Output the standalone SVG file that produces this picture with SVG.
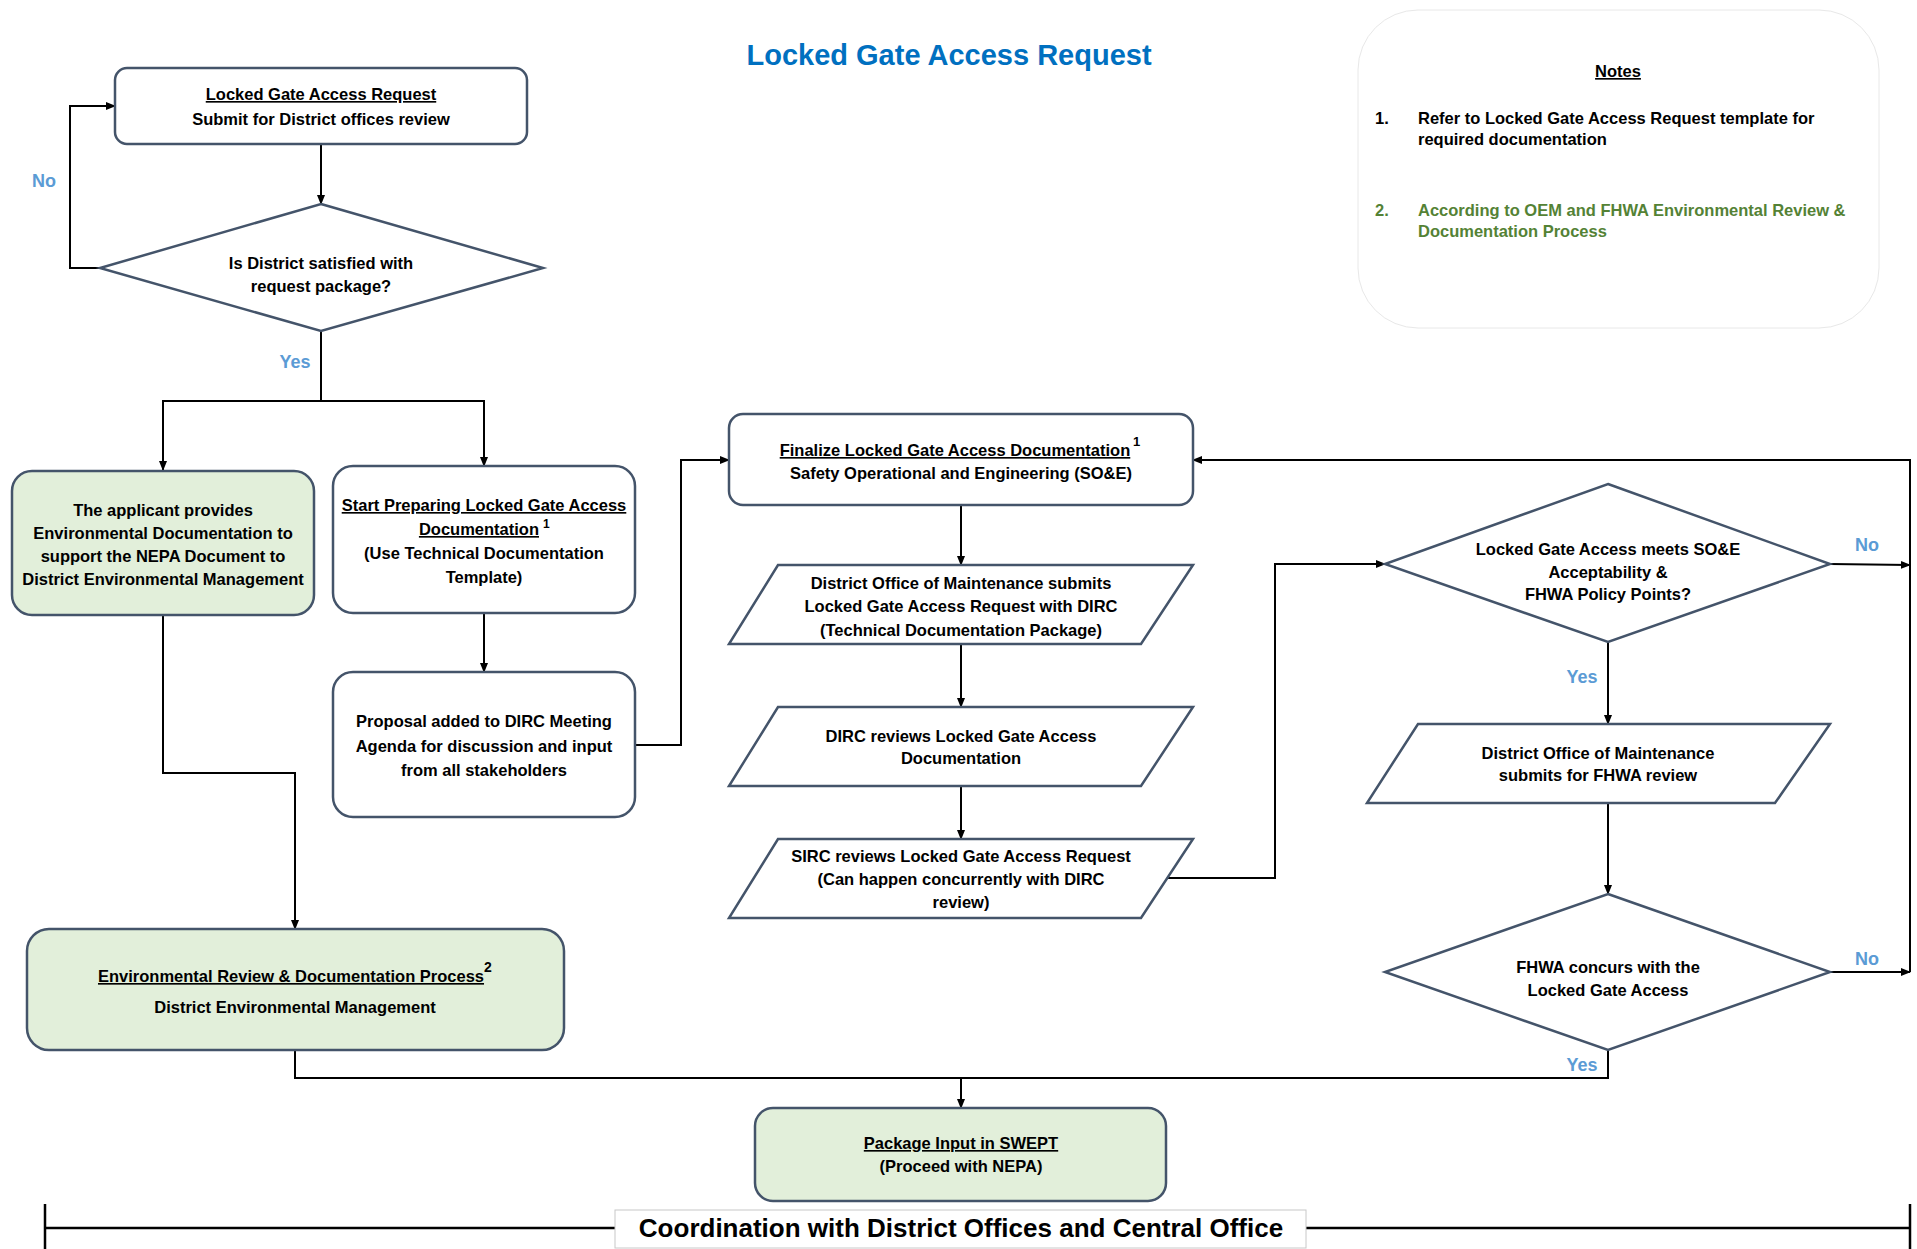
<svg xmlns="http://www.w3.org/2000/svg" width="1917" height="1249" viewBox="0 0 1917 1249">
  <defs>
    <marker id="arrow" markerWidth="10" markerHeight="10" refX="9" refY="5" orient="auto" markerUnits="userSpaceOnUse">
      <path d="M0,1 L10,5 L0,9 Z" fill="#000"/>
    </marker>
    <style>
      text { font-family: "Liberation Sans", Arial, sans-serif; font-weight: bold; }
      .node { fill: #ffffff; stroke: #44546A; stroke-width: 2.5; }
      .green { fill: #E2EFDA; stroke: #44546A; stroke-width: 2.5; }
      .t { font-size: 16.5px; fill: #000; text-anchor: middle; }
      .u { text-decoration: underline; }
      .sup { font-size: 12px; fill: #000; }
      .lbl { font-size: 18px; fill: #5B9BD5; text-anchor: middle; }
      .conn { fill: none; stroke: #000; stroke-width: 2; }
      .arr { marker-end: url(#arrow); }
      .note { font-size: 16.5px; fill: #000; }
      .note2 { font-size: 16.5px; fill: #548235; }
    </style>
  </defs>
  <rect width="1917" height="1249" fill="#ffffff"/>

  <!-- title -->
  <text x="949" y="65" font-size="29" fill="#0070C0" text-anchor="middle">Locked Gate Access Request</text>

  <!-- notes panel -->
  <g id="notes">
    <rect x="1358" y="10" width="521" height="318" rx="60" fill="#ffffff" stroke="#E8E8E8" stroke-width="1"/>
    <text class="t u" x="1618" y="77">Notes</text>
    <text class="note" x="1375" y="124">1.</text>
    <text class="note" x="1418" y="124">Refer to Locked Gate Access Request template for</text>
    <text class="note" x="1418" y="145">required documentation</text>
    <text class="note2" x="1375" y="216">2.</text>
    <text class="note2" x="1418" y="216">According to OEM and FHWA Environmental Review &amp;</text>
    <text class="note2" x="1418" y="237">Documentation Process</text>
  </g>

  <!-- connectors -->
  <g id="connectors">
    <path class="conn arr" d="M321,144 V204"/>
    <path class="conn arr" d="M100,268 H70 V106 H115"/>
    <path class="conn arr" d="M321,331 V401 H163 V470"/>
    <path class="conn arr" d="M321,401 H484 V466"/>
    <path class="conn arr" d="M484,613 V672"/>
    <path class="conn arr" d="M163,615 V773 H295 V929"/>
    <path class="conn arr" d="M635,745 H681 V460 H729"/>
    <path class="conn arr" d="M961,505 V565"/>
    <path class="conn arr" d="M961,644 V707"/>
    <path class="conn arr" d="M961,786 V839"/>
    <path class="conn arr" d="M1167,878 H1275 V564 H1385"/>
    <path class="conn arr" d="M1830,564 L1910,565"/>
    <path class="conn arr" d="M1910,972 V460 H1193"/>
    <path class="conn arr" d="M1608,642 V724"/>
    <path class="conn arr" d="M1608,803 V894"/>
    <path class="conn arr" d="M1830,972 H1910"/>
    <path class="conn" d="M295,1050 V1078 H1608 V1050"/>
    <path class="conn arr" d="M961,1078 V1108"/>
    <text class="lbl" x="44" y="187">No</text>
    <text class="lbl" x="295" y="368">Yes</text>
    <text class="lbl" x="1867" y="551">No</text>
    <text class="lbl" x="1582" y="683">Yes</text>
    <text class="lbl" x="1867" y="965">No</text>
    <text class="lbl" x="1582" y="1071">Yes</text>
  </g>

  <!-- nodes -->
  <g id="request">
    <rect class="node" x="115" y="68" width="412" height="76" rx="12"/>
    <text class="t u" x="321" y="100">Locked Gate Access Request</text>
    <text class="t" x="321" y="125">Submit for District offices review</text>
  </g>

  <g id="district-satisfied">
    <polygon class="node" points="321,204 543,268 321,331 100,268"/>
    <text class="t" x="321" y="269">Is District satisfied with</text>
    <text class="t" x="321" y="292">request package?</text>
  </g>

  <g id="applicant-env-doc">
    <rect class="green" x="12" y="471" width="302" height="144" rx="20"/>
    <text class="t" x="163" y="516">The applicant provides</text>
    <text class="t" x="163" y="539">Environmental Documentation to</text>
    <text class="t" x="163" y="562">support the NEPA Document to</text>
    <text class="t" x="163" y="585">District Environmental Management</text>
  </g>

  <g id="start-preparing">
    <rect class="node" x="333" y="466" width="302" height="147" rx="20"/>
    <text class="t u" x="484" y="511">Start Preparing Locked Gate Access</text>
    <text class="t u" x="539" y="535" style="text-anchor:end">Documentation</text>
    <text class="sup" x="543" y="528" font-size="11">1</text>
    <text class="t" x="484" y="559">(Use Technical Documentation</text>
    <text class="t" x="484" y="583">Template)</text>
  </g>

  <g id="dirc-agenda">
    <rect class="node" x="333" y="672" width="302" height="145" rx="20"/>
    <text class="t" x="484" y="727">Proposal added to DIRC Meeting</text>
    <text class="t" x="484" y="752">Agenda for discussion and input</text>
    <text class="t" x="484" y="776">from all stakeholders</text>
  </g>

  <g id="finalize">
    <rect class="node" x="729" y="414" width="464" height="91" rx="14"/>
    <text class="t u" x="955" y="456">Finalize Locked Gate Access Documentation</text>
    <text class="sup" x="1133" y="446" style="font-size:13px">1</text>
    <text class="t" x="961" y="479">Safety Operational and Engineering (SO&amp;E)</text>
  </g>

  <g id="maintenance-submits-dirc">
    <polygon class="node" points="778,565 1193,565 1141,644 729,644"/>
    <text class="t" x="961" y="589">District Office of Maintenance submits</text>
    <text class="t" x="961" y="612">Locked Gate Access Request with DIRC</text>
    <text class="t" x="961" y="636">(Technical Documentation Package)</text>
  </g>

  <g id="dirc-reviews">
    <polygon class="node" points="778,707 1193,707 1141,786 729,786"/>
    <text class="t" x="961" y="742">DIRC reviews Locked Gate Access</text>
    <text class="t" x="961" y="764">Documentation</text>
  </g>

  <g id="sirc-reviews">
    <polygon class="node" points="778,839 1193,839 1141,918 729,918"/>
    <text class="t" x="961" y="862">SIRC reviews Locked Gate Access Request</text>
    <text class="t" x="961" y="885">(Can happen concurrently with DIRC</text>
    <text class="t" x="961" y="908">review)</text>
  </g>

  <g id="meets-soe">
    <polygon class="node" points="1608,484 1830,564 1608,642 1385,564"/>
    <text class="t" x="1608" y="555">Locked Gate Access meets SO&amp;E</text>
    <text class="t" x="1608" y="578">Acceptability &amp;</text>
    <text class="t" x="1608" y="600">FHWA Policy Points?</text>
  </g>

  <g id="submit-fhwa">
    <polygon class="node" points="1418,724 1830,724 1775,803 1367,803"/>
    <text class="t" x="1598" y="759">District Office of Maintenance</text>
    <text class="t" x="1598" y="781">submits for FHWA review</text>
  </g>

  <g id="fhwa-concurs">
    <polygon class="node" points="1608,894 1830,972 1608,1050 1385,972"/>
    <text class="t" x="1608" y="973">FHWA concurs with the</text>
    <text class="t" x="1608" y="996">Locked Gate Access</text>
  </g>

  <g id="env-review">
    <rect class="green" x="27" y="929" width="537" height="121" rx="22"/>
    <text class="t u" x="291" y="982">Environmental Review &amp; Documentation Process</text>
    <text class="sup" x="484" y="972" style="font-size:14px">2</text>
    <text class="t" x="295" y="1013">District Environmental Management</text>
  </g>

  <g id="swept">
    <rect class="green" x="755" y="1108" width="411" height="93" rx="18"/>
    <text class="t u" x="961" y="1149">Package Input in SWEPT</text>
    <text class="t" x="961" y="1172">(Proceed with NEPA)</text>
  </g>

  <!-- coordination bar -->
  <g id="coordination">
    <path d="M45,1228 H615 M1306,1228 H1910 M45,1204 V1249 M1910,1204 V1249" fill="none" stroke="#000" stroke-width="2.5"/>
    <rect x="615" y="1210" width="691" height="38" fill="#ffffff" stroke="#C8C8C8" stroke-width="1"/>
    <text x="961" y="1237" font-size="26" fill="#000" text-anchor="middle">Coordination with District Offices and Central Office</text>
  </g>
</svg>
